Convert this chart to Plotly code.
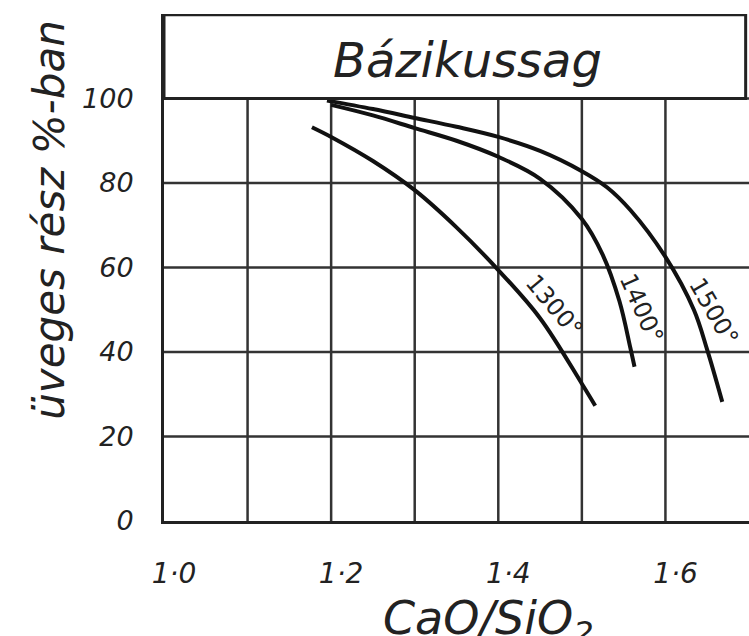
import plotly.graph_objects as go

# Glass fraction (%) vs basicity CaO/SiO2 at three temperatures
x_1300 = [1.177, 1.2, 1.25, 1.3, 1.35, 1.4, 1.45, 1.5, 1.516]
y_1300 = [93.2, 90.9, 85.2, 78.3, 69.5, 59.4, 48.0, 32.5, 27.3]

x_1400 = [1.2, 1.25, 1.3, 1.35, 1.4, 1.45, 1.5, 1.525, 1.545, 1.558, 1.563]
y_1400 = [98.5, 96.0, 93.0, 90.0, 86.2, 81.0, 71.5, 63.0, 52.0, 41.0, 36.5]

x_1500 = [1.195, 1.25, 1.3, 1.35, 1.4, 1.45, 1.5, 1.53, 1.558, 1.6, 1.634, 1.65, 1.668]
y_1500 = [99.5, 97.5, 95.4, 93.3, 90.9, 87.6, 82.8, 79.0, 73.6, 62.5, 50.0, 40.5, 28.2]

curve_labels = ["1300°", "1400°", "1500°"]
label_x = [1.467, 1.571, 1.658]
label_y = [51.0, 50.4, 49.5]
label_angle = [50, 66, 60]

x_tickvals = [1.0, 1.2, 1.4, 1.6]
x_ticktext = ["1·0", "1·2", "1·4", "1·6"]
y_tickvals = [0, 20, 40, 60, 80, 100]
y_ticktext = ["0", "20", "40", "60", "80", "100"]

INK = "#222222"
FONT = "DejaVu Sans"

fig = go.Figure()

for xs, ys in [(x_1300, y_1300), (x_1400, y_1400), (x_1500, y_1500)]:
    fig.add_trace(
        go.Scatter(
            x=xs,
            y=ys,
            mode="lines",
            line=dict(color="#111111", width=4, shape="spline", smoothing=1.0),
            hoverinfo="skip",
        )
    )

# Grid drawn by hand so the vertical lines stop at 100
for gx in [1.1, 1.2, 1.3, 1.4, 1.5, 1.6]:
    fig.add_shape(
        type="line", x0=gx, x1=gx, y0=0, y1=100,
        line=dict(color="#333333", width=2.5), layer="below",
    )
for gy in [20, 40, 60, 80, 100]:
    fig.add_shape(
        type="line", x0=1.0, x1=1.7, y0=gy, y1=gy,
        line=dict(color="#333333", width=2.5), layer="below",
    )

# Title box above the grid
fig.add_shape(
    type="rect", x0=1.0, x1=1.696, y0=100, y1=119.8,
    line=dict(color=INK, width=3), fillcolor="white", layer="above",
)
fig.add_annotation(
    x=1.363, y=109.0, xref="x", yref="y", text="Bázikussag", showarrow=False,
    font=dict(family=FONT, size=48, color=INK, style="italic"),
    xanchor="center", yanchor="middle",
)

# Temperature labels along the curves
for txt, lx, ly, ang in zip(curve_labels, label_x, label_y, label_angle):
    fig.add_annotation(
        x=lx, y=ly, text=txt, showarrow=False, textangle=ang,
        font=dict(family=FONT, size=24, color=INK),
        xanchor="center", yanchor="middle",
    )

# Axis titles
fig.add_annotation(
    x=-0.195, y=0.594, xref="paper", yref="paper",
    text="üveges rész %-ban", showarrow=False, textangle=-90,
    font=dict(family=FONT, size=42, color=INK, style="italic"),
    xanchor="center", yanchor="middle",
)
fig.add_annotation(
    x=0.554, y=-0.198, xref="paper", yref="paper",
    text="CaO/SiO<sub>2</sub>", showarrow=False,
    font=dict(family=FONT, size=46, color=INK, style="italic"),
    xanchor="center", yanchor="middle",
)

fig.update_xaxes(
    range=[1.0, 1.7],
    showgrid=False, zeroline=False,
    showline=True, linecolor=INK, linewidth=3,
    tickvals=x_tickvals, ticktext=x_ticktext,
    ticks="", ticklabelstandoff=25, ticklabelshift=10,
    tickfont=dict(family=FONT, size=28, color=INK, style="italic"),
)
fig.update_yaxes(
    range=[0, 120],
    showgrid=False, zeroline=False,
    showline=True, linecolor=INK, linewidth=3,
    tickvals=y_tickvals, ticktext=y_ticktext,
    ticks="", ticklabelstandoff=22,
    tickfont=dict(family=FONT, size=27, color=INK, style="italic"),
)

fig.update_layout(
    width=749,
    height=636,
    margin=dict(l=164, r=0, t=14, b=115, autoexpand=False),
    plot_bgcolor="white",
    paper_bgcolor="white",
    showlegend=False,
)

fig.write_html(
    "out.html",
    config={"displayModeBar": False},
    post_script="document.body.style.margin='0px';",
)
